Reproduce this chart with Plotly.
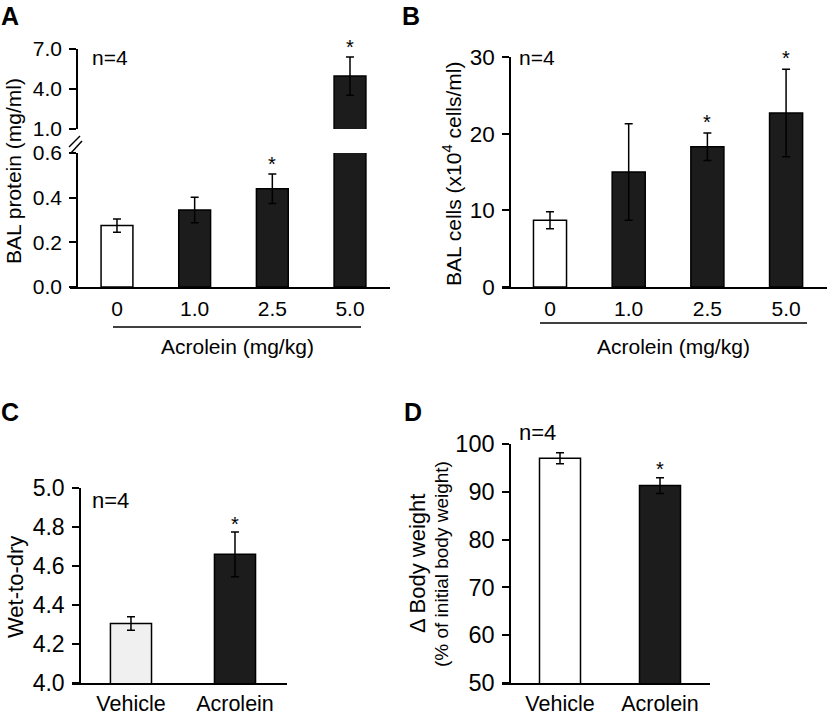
import plotly.graph_objects as go

W, H = 827, 715
FONT = "Liberation Sans, Arial, sans-serif"
DARK = "#1c1c1c"

# ---------------- data ----------------
dose_labels = ["0", "1.0", "2.5", "5.0"]
bal_protein = [0.275, 0.345, 0.44, 4.97]
bal_protein_err = [0.03, 0.057, 0.066, 1.43]
bal_protein_sig = [False, False, True, True]

bal_cells = [8.7, 15.0, 18.3, 22.7]
bal_cells_err = [1.1, 6.3, 1.8, 5.7]
bal_cells_sig = [False, False, True, True]

groups = ["Vehicle", "Acrolein"]
wet_dry = [4.305, 4.66]
wet_dry_err = [0.035, 0.115]
wet_dry_sig = [False, True]

body_weight = [97.0, 91.3]
body_weight_err = [1.15, 1.65]
body_weight_sig = [False, True]

dose_colors = ["white", DARK, DARK, DARK]
c_colors = ["#f0f0f0", DARK]
d_colors = ["white", DARK]

A_LOW_MAX = 0.6


def px(x):
    return x / W


def py(y):
    return 1 - y / H


fig = go.Figure()


def bar(x, y, err, colors, xa, ya, width):
    fig.add_trace(go.Bar(
        x=x, y=y, xaxis=xa, yaxis=ya, width=width,
        marker=dict(color=colors, line=dict(color="black", width=1.5)),
        error_y=dict(type="data", array=err, color="black", thickness=1.5, width=4),
        showlegend=False, hoverinfo="skip",
    ))


bar(dose_labels, bal_protein, bal_protein_err, dose_colors, "x", "y", 0.41)
bar(dose_labels, bal_protein, bal_protein_err, dose_colors, "x2", "y2", 0.41)
bar(dose_labels, bal_cells, bal_cells_err, dose_colors, "x3", "y3", 0.42)
bar(groups, wet_dry, wet_dry_err, c_colors, "x4", "y4", 0.395)
bar(groups, body_weight, body_weight_err, d_colors, "x5", "y5", 0.41)


def f(size):
    return dict(family=FONT, size=size, color="black")


def xax(domain, rng, anchor, font, visible=True, standoff=2, cats=None):
    d = dict(domain=domain, range=rng, anchor=anchor, type="category",
             showline=visible, linecolor="black", linewidth=1.5,
             ticks="", showticklabels=visible, tickfont=font,
             showgrid=False, zeroline=False, fixedrange=True, automargin=False,
             ticklabelstandoff=standoff)
    if cats:
        d["categoryorder"] = "array"
        d["categoryarray"] = cats
    return d


def yax(domain, rng, pos, tickvals, fmt, font):
    return dict(domain=domain, range=rng, anchor="free", position=pos,
                showline=True, linecolor="black", linewidth=1.5,
                ticks="outside", ticklen=7, tickwidth=1.5, tickcolor="black",
                tickvals=tickvals, tickformat=fmt, tickfont=font,
                showgrid=False, zeroline=False, fixedrange=True, automargin=False,
                ticklabelstandoff=3)


fig.update_layout(
    width=W, height=H,
    margin=dict(l=0, r=0, t=0, b=0, autoexpand=False),
    paper_bgcolor="white", plot_bgcolor="white",
    font=dict(family=FONT, color="black"),
    barmode="overlay",
    xaxis=xax([px(70), px(390)], [-0.605, 3.515], "y", f(21), cats=dose_labels),
    xaxis2=xax([px(70), px(390)], [-0.605, 3.515], "y2", f(21), visible=False, cats=dose_labels),
    xaxis3=xax([px(502), 1.0], [-0.61, 3.52], "y3", f(21), cats=dose_labels),
    xaxis4=xax([px(72), px(287)], [-0.567, 1.5], "y4", f(21.5), standoff=0, cats=groups),
    xaxis5=xax([px(502), px(710)], [-0.58, 1.5], "y5", f(21.5), standoff=0, cats=groups),
    yaxis=yax([py(287), py(153)], [0, A_LOW_MAX], px(77), [0, 0.2, 0.4, 0.6], ".1f", f(21)),
    yaxis2=yax([py(129), py(49)], [1, 7], px(77), [1, 4, 7], ".1f", f(21)),
    yaxis3=yax([py(287), py(57)], [0, 30], px(510), [0, 10, 20, 30], "d", f(22.5)),
    yaxis4=yax([py(683), py(488)], [4.0, 5.0], px(80), [4.0, 4.2, 4.4, 4.6, 4.8, 5.0], ".1f", f(23)),
    yaxis5=yax([py(683), py(444)], [50, 100], px(510), [50, 60, 70, 80, 90, 100], "d", f(23.5)),
)

ann = []


def text(x, y, s, size=20, bold=False, angle=0, xanchor="center", yanchor="middle"):
    ann.append(dict(x=px(x), y=py(y), xref="paper", yref="paper", text=("<b>%s</b>" % s) if bold else s,
                    showarrow=False, textangle=angle, xanchor=xanchor, yanchor=yanchor,
                    font=f(size)))


text(10, 16, "A", 25, True)
text(411, 16, "B", 25, True)
text(10, 412, "C", 25, True)
text(413, 412, "D", 25, True)

text(13, 171, "BAL protein (mg/ml)", 21, angle=-90)
text(452, 174, "BAL cells (x10<sup>4</sup> cells/ml)", 21, angle=-90)
text(15, 587, "Wet-to-dry", 22, angle=-90)
text(417, 564, "Δ Body weight", 22, angle=-90)
text(441, 564, "(% of initial body weight)", 19, angle=-90)

text(110, 58, "n=4", 21)
text(537, 58, "n=4", 21)
text(110, 500, "n=4", 22)
text(537, 432, "n=4", 22)

text(237, 347, "Acrolein (mg/kg)", 21)
text(673, 347, "Acrolein (mg/kg)", 21)


def star(idx, top, xref, yref, shift=-2):
    ann.append(dict(x=idx, y=top, xref=xref, yref=yref, text="*", showarrow=False,
                    yanchor="bottom", yshift=shift, font=f(20)))


for i, (v, e, s) in enumerate(zip(bal_protein, bal_protein_err, bal_protein_sig)):
    if s:
        low = v + e <= A_LOW_MAX
        star(i, v + e, "x" if low else "x2", "y" if low else "y2", -3)
for i, (v, e, s) in enumerate(zip(bal_cells, bal_cells_err, bal_cells_sig)):
    if s:
        star(i, v + e, "x3", "y3")
for i, (v, e, s) in enumerate(zip(wet_dry, wet_dry_err, wet_dry_sig)):
    if s:
        star(i, v + e, "x4", "y4", -5)
for i, (v, e, s) in enumerate(zip(body_weight, body_weight_err, body_weight_sig)):
    if s:
        star(i, v + e, "x5", "y5", -4)

fig.update_layout(annotations=ann)

shapes = []


def seg(x0, y0, x1, y1):
    shapes.append(dict(type="line", xref="paper", yref="paper", x0=px(x0), y0=py(y0),
                       x1=px(x1), y1=py(y1), line=dict(color="black", width=1.5)))


seg(113, 327, 361, 327)
seg(540, 323, 807, 323)
seg(69, 147, 80, 136)
seg(71, 153, 82, 141)
fig.update_layout(shapes=shapes)

fig.write_html("out.html", config={"displayModeBar": False},
               post_script="document.body.style.margin='0';document.body.style.overflow='hidden';")
